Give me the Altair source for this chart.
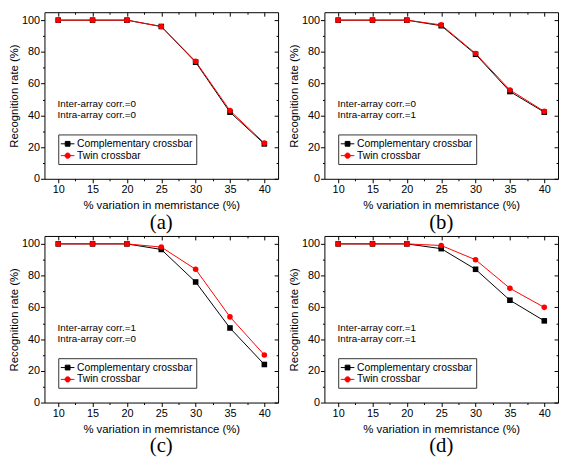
import altair as alt
import pandas as pd

# ---------------- data ----------------
pct = [10, 15, 20, 25, 30, 35, 40]
comp_a = [100, 100, 100, 96, 73.5, 42, 22]
twin_a = [100, 100, 100, 96, 74, 43, 22.5]
comp_b = [100, 100, 100, 96.5, 78.5, 55, 42]
twin_b = [100, 100, 100, 97, 79, 56, 42.5]
comp_c = [100, 100, 100, 96.5, 76, 47, 24]
twin_c = [100, 100, 100, 98, 84, 54, 30]
comp_d = [100, 100, 100, 97, 84, 64.5, 51.5]
twin_d = [100, 100, 100, 99, 90, 72, 60]

series_names = ["Complementary crossbar", "Twin crossbar"]
panel_labels = ["(a)", "(b)", "(c)", "(d)"]
inter_corr = [0, 0, 1, 1]
intra_corr = [0, 1, 0, 1]

x_ticks = [10, 15, 20, 25, 30, 35, 40]
x_minor = [12.5, 17.5, 22.5, 27.5, 32.5, 37.5]
y_ticks = [0, 20, 40, 60, 80, 100]
y_minor = [10, 30, 50, 70, 90]

# ---------------- styling ----------------
W, H = 237, 169
SANS = "Liberation Sans"
SERIF = "Liberation Serif"
COLORS = ["#000000", "#ff0000"]
LEGEND_PATHS = [
    "M-1.2,0H1.2M-0.42,-0.42H0.42V0.42H-0.42Z",
    "M-1.2,0H1.2M-0.46,0A0.46,0.46,0,1,0,0.46,0A0.46,0.46,0,1,0,-0.46,0Z",
]
xscale = alt.Scale(domain=[8, 42], nice=False, zero=False)
yscale = alt.Scale(domain=[0, 105], nice=False, zero=False)


def plain_axis(orient, values, size, offset=0):
    return alt.Axis(orient=orient, values=values, tickSize=size, offset=offset,
                    labels=False, domain=False, grid=False, title=None)


def axis_layer(df, xaxis, yaxis):
    return alt.Chart(df).transform_filter("false").mark_point(opacity=0).encode(
        x=alt.X("pct:Q", scale=xscale, axis=xaxis),
        y=alt.Y("rate:Q", scale=yscale, axis=yaxis),
    )


def panel(comp, twin, label, inter, intra):
    df = pd.DataFrame({
        "pct": pct + pct,
        "rate": comp + twin,
        "series": [series_names[0]] * len(pct) + [series_names[1]] * len(pct),
    })

    x_main = alt.X("pct:Q", scale=xscale, axis=alt.Axis(
        orient="bottom", values=x_ticks, tickSize=4, labelPadding=1,
        domain=False, grid=False, title="% variation in memristance (%)",
        titlePadding=5, labelFlush=False, labelOverlap=False))
    y_main = alt.Y("rate:Q", scale=yscale, axis=alt.Axis(
        orient="left", values=y_ticks, tickSize=4, labelPadding=1,
        domain=False, grid=False, title="Recognition rate (%)",
        titlePadding=2, labelFlush=False, labelOverlap=False))
    x_none = alt.X("pct:Q", scale=xscale, axis=None)
    y_none = alt.Y("rate:Q", scale=yscale, axis=None)

    layers = [
        axis_layer(df, plain_axis("bottom", x_minor, 2), plain_axis("left", y_minor, 2)),
        axis_layer(df, plain_axis("top", x_ticks, 4, -4), plain_axis("right", y_ticks, 4, -4)),
        axis_layer(df, plain_axis("top", x_minor, 2, -2), plain_axis("right", y_minor, 2, -2)),
    ]
    base = alt.Chart(df)
    for i, (name, col) in enumerate(zip(series_names, COLORS)):
        sub = base.transform_filter(alt.datum.series == name)
        layers.append(sub.mark_line(color=col, strokeWidth=1).encode(
            x=x_main if i == 0 else x_none, y=y_main if i == 0 else y_none))
    for name, col, shape in zip(series_names, COLORS, ["square", "circle"]):
        sub = base.transform_filter(alt.datum.series == name)
        layers.append(sub.mark_point(shape=shape, filled=True, size=32, color=col,
                                     opacity=1, strokeWidth=0.5).encode(x=x_none, y=y_none))

    ann = pd.DataFrame({
        "pct": [9.9, 9.9],
        "rate": [47, 40],
        "text": [f"Inter-array corr.={inter}", f"Intra-array corr.={intra}"],
    })
    layers.append(alt.Chart(ann).mark_text(align="left", baseline="middle", font=SANS,
                                           fontSize=10, color="black").encode(
        x=x_none, y=y_none, text="text:N"))

    leg = alt.Legend(title=None, orient="none", legendX=14, legendY=124,
                     direction="vertical", strokeColor="#333333", fillColor="white",
                     padding=3, labelFont=SANS, labelFontSize=10.5, labelColor="black",
                     symbolSize=132, symbolStrokeWidth=1, rowPadding=0, labelOffset=3,
                     symbolOpacity=1)
    layers.append(base.transform_filter("false").mark_point(
        filled=True, size=132, opacity=1, strokeWidth=1).encode(
        x=x_none, y=y_none,
        color=alt.Color("series:N", scale=alt.Scale(domain=series_names, range=COLORS), legend=leg),
        stroke=alt.Stroke("series:N", scale=alt.Scale(domain=series_names, range=COLORS), legend=leg),
        shape=alt.Shape("series:N", scale=alt.Scale(domain=series_names, range=LEGEND_PATHS), legend=leg),
    ))

    return alt.layer(*layers).resolve_axis(x="independent", y="independent").properties(
        width=W, height=H,
        title=alt.TitleParams(text=label, orient="bottom", font=SERIF, fontSize=21,
                              fontWeight="normal", offset=1, anchor="middle", color="black"),
    )


panels = [
    panel(comp_a, twin_a, panel_labels[0], inter_corr[0], intra_corr[0]),
    panel(comp_b, twin_b, panel_labels[1], inter_corr[1], intra_corr[1]),
    panel(comp_c, twin_c, panel_labels[2], inter_corr[2], intra_corr[2]),
    panel(comp_d, twin_d, panel_labels[3], inter_corr[3], intra_corr[3]),
]

chart = alt.concat(*panels, columns=2, spacing={"row": 58, "column": 47}, bounds="flush").resolve_scale(
    color="independent", shape="independent", stroke="independent"
).properties(padding=0).configure_view(stroke="black", strokeWidth=1).configure_axis(
    labelFont=SANS, titleFont=SANS, labelFontSize=11, titleFontSize=11.5,
    titleFontWeight="normal", labelColor="black", titleColor="black",
    tickColor="black", tickWidth=1,
)

chart.save("out.html", embed_options={"renderer": "svg", "actions": False})
